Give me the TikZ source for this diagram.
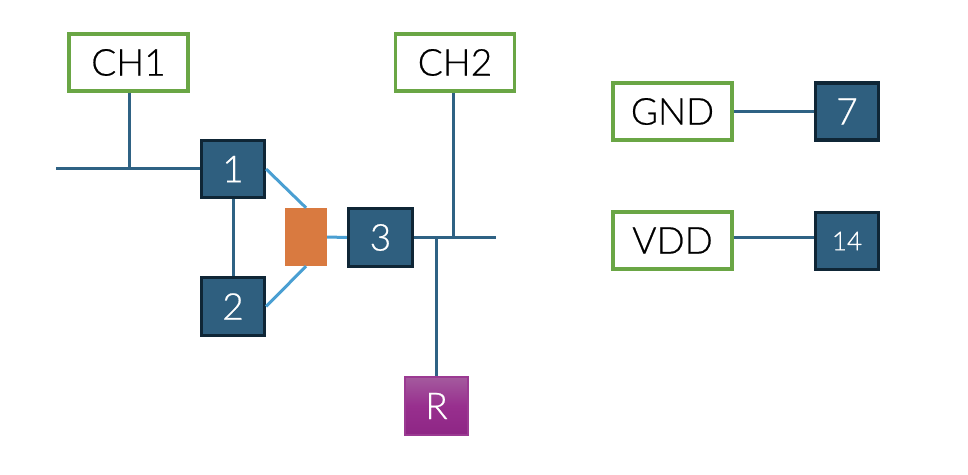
\documentclass[tikz,border=0pt]{standalone}
\usepackage{fontspec}
\setmainfont{Lato}[UprightFont=* Light,UprightFeatures={FakeBold=0.6}]
\definecolor{bluefill}{HTML}{2F5F7F}
\definecolor{blueedge}{HTML}{0F2636}
\definecolor{wire}{HTML}{2F6284}
\definecolor{ltwire}{HTML}{4A9FD2}
\definecolor{greenedge}{HTML}{6AA645}
\definecolor{orangefill}{HTML}{D97A40}
\definecolor{purpletop}{HTML}{A45A9E}
\definecolor{purplemid}{HTML}{982F8E}
\definecolor{purplebot}{HTML}{8E2685}
\definecolor{purpleedge}{HTML}{9B3A92}
\tikzset{
  x=1pt,y=-1pt,
  bigtext/.style={font=\fontsize{37}{37}\selectfont},
  labelbox/.style={draw=greenedge,line width=3.2pt,fill=white,inner sep=0pt,minimum width=119pt,minimum height=57pt,text=black,bigtext},
  pinbox/.style={draw=blueedge,line width=3.2pt,fill=bluefill,inner sep=0pt,minimum width=63pt,minimum height=57pt,text=white,bigtext},
  wireline/.style={draw=wire,line width=3pt},
  ltline/.style={draw=ltwire,line width=3pt},
}
\begin{document}
\begin{tikzpicture}
\useasboundingbox (0,0) rectangle (968,474);
\coordinate (inleft) at (56,168.5);
\coordinate (outright) at (496,237.5);
\coordinate (j1) at (129.5,168.5);
\coordinate (j2) at (453,237.5);
\coordinate (j3) at (436.5,237.5);
\node[labelbox] (ch1) at (128.5,62.5) {CH1};
\node[labelbox] (ch2) at (455,62.5) {CH2};
\node[labelbox] (gnd) at (672.5,111.5) {GND};
\node[labelbox] (vdd) at (672.5,240.5) {VDD};
\node[pinbox] (p1) at (233,169) {1};
\node[pinbox,minimum height=58pt] (p2) at (233,306.5) {2};
\node[pinbox,minimum height=58pt,minimum width=64pt] (p3) at (380.5,237.5) {3};
\node[pinbox] (p7) at (847,111.5) {7};
\node[pinbox,font=\fontsize{26}{26}\selectfont] (p14) at (847,241) {14};
\node[fill=orangefill,minimum width=42pt,minimum height=58pt,inner sep=0pt] (gate) at (306,237) {};
\node[draw=purpleedge,line width=2pt,top color=purpletop,bottom color=purplebot,middle color=purplemid,minimum width=63pt,minimum height=58pt,inner sep=0pt,text=white,bigtext] (r) at (436.5,406) {R};
\draw[wireline] (inleft) -- (p1.west |- inleft);
\draw[wireline] (j1 |- ch1.south) -- (j1);
\draw[wireline] (p1.south) -- (p2.north);
\draw[wireline] (p3.east |- outright) -- (outright);
\draw[wireline] (j2 |- ch2.south) -- (j2);
\draw[wireline] (j3) -- (r.north);
\draw[wireline] (gnd.east) -- (p7.west);
\draw[wireline] (vdd.east |- outright) -- (p14.west |- outright);
\draw[ltline] (p1.east) -- (gate.north);
\draw[ltline] (p2.east) -- (gate.south);
\draw[ltline] (gate.east) -- (p3.west);
\end{tikzpicture}
\end{document}
